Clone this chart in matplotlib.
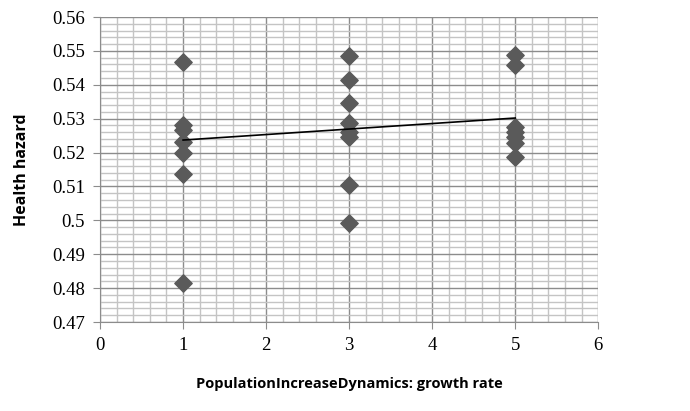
import numpy as np
import matplotlib.pyplot as plt
from matplotlib.ticker import MultipleLocator

# data
x1 = [1, 1, 1, 1, 1, 1, 1]
y1 = [0.5467, 0.5281, 0.5267, 0.5231, 0.5199, 0.5137, 0.4815]
x3 = [3, 3, 3, 3, 3, 3, 3, 3]
y3 = [0.5485, 0.5414, 0.5347, 0.5287, 0.5261, 0.5246, 0.5104, 0.4992]
x5 = [5, 5, 5, 5, 5, 5, 5]
y5 = [0.5488, 0.5458, 0.5276, 0.5261, 0.5246, 0.5228, 0.5187]
trend_x = [1, 5]
trend_y = [0.5237, 0.5302]

xs = x1 + x3 + x5
ys = y1 + y3 + y5

fig = plt.figure(figsize=(6.9, 4.11), dpi=100)
ax = fig.add_axes([0.145, 0.2165, 0.722, 0.742])

ax.set_xlim(0, 6)
ax.set_ylim(0.47, 0.56)
ax.xaxis.set_major_locator(MultipleLocator(1))
ax.xaxis.set_minor_locator(MultipleLocator(0.2))
ax.yaxis.set_major_locator(MultipleLocator(0.01))
ax.yaxis.set_minor_locator(MultipleLocator(0.002))
ax.grid(which='major', color='#8c8c8c', linewidth=1.0)
ax.grid(which='minor', color='#c4c4c4', linewidth=1.0)
ax.set_axisbelow(True)

ax.scatter(xs, ys, marker='D', s=78, color='#5a5a5a', zorder=3)
ax.plot(trend_x, trend_y, color='black', linewidth=1.2, zorder=4)

for s in ['top', 'right']:
    ax.spines[s].set_visible(False)
for s in ['left', 'bottom']:
    ax.spines[s].set_color('#8c8c8c')

ax.tick_params(which='major', length=5, color='#8c8c8c', labelsize=13.5, pad=6)
ax.tick_params(which='minor', length=0)
ax.set_yticks(np.arange(0.47, 0.5601, 0.01))
ax.set_yticklabels(['0.47', '0.48', '0.49', '0.5', '0.51', '0.52', '0.53', '0.54', '0.55', '0.56'])
for lab in ax.get_xticklabels() + ax.get_yticklabels():
    lab.set_family('Liberation Serif')

ax.set_xlabel('PopulationIncreaseDynamics: growth rate', fontsize=10.5, fontweight='bold',
              family='Open Sans', labelpad=16)
ax.set_ylabel('Health hazard', fontsize=11.5, fontweight='bold', family='Open Sans', labelpad=16)

fig.savefig('out.png', dpi=100)
